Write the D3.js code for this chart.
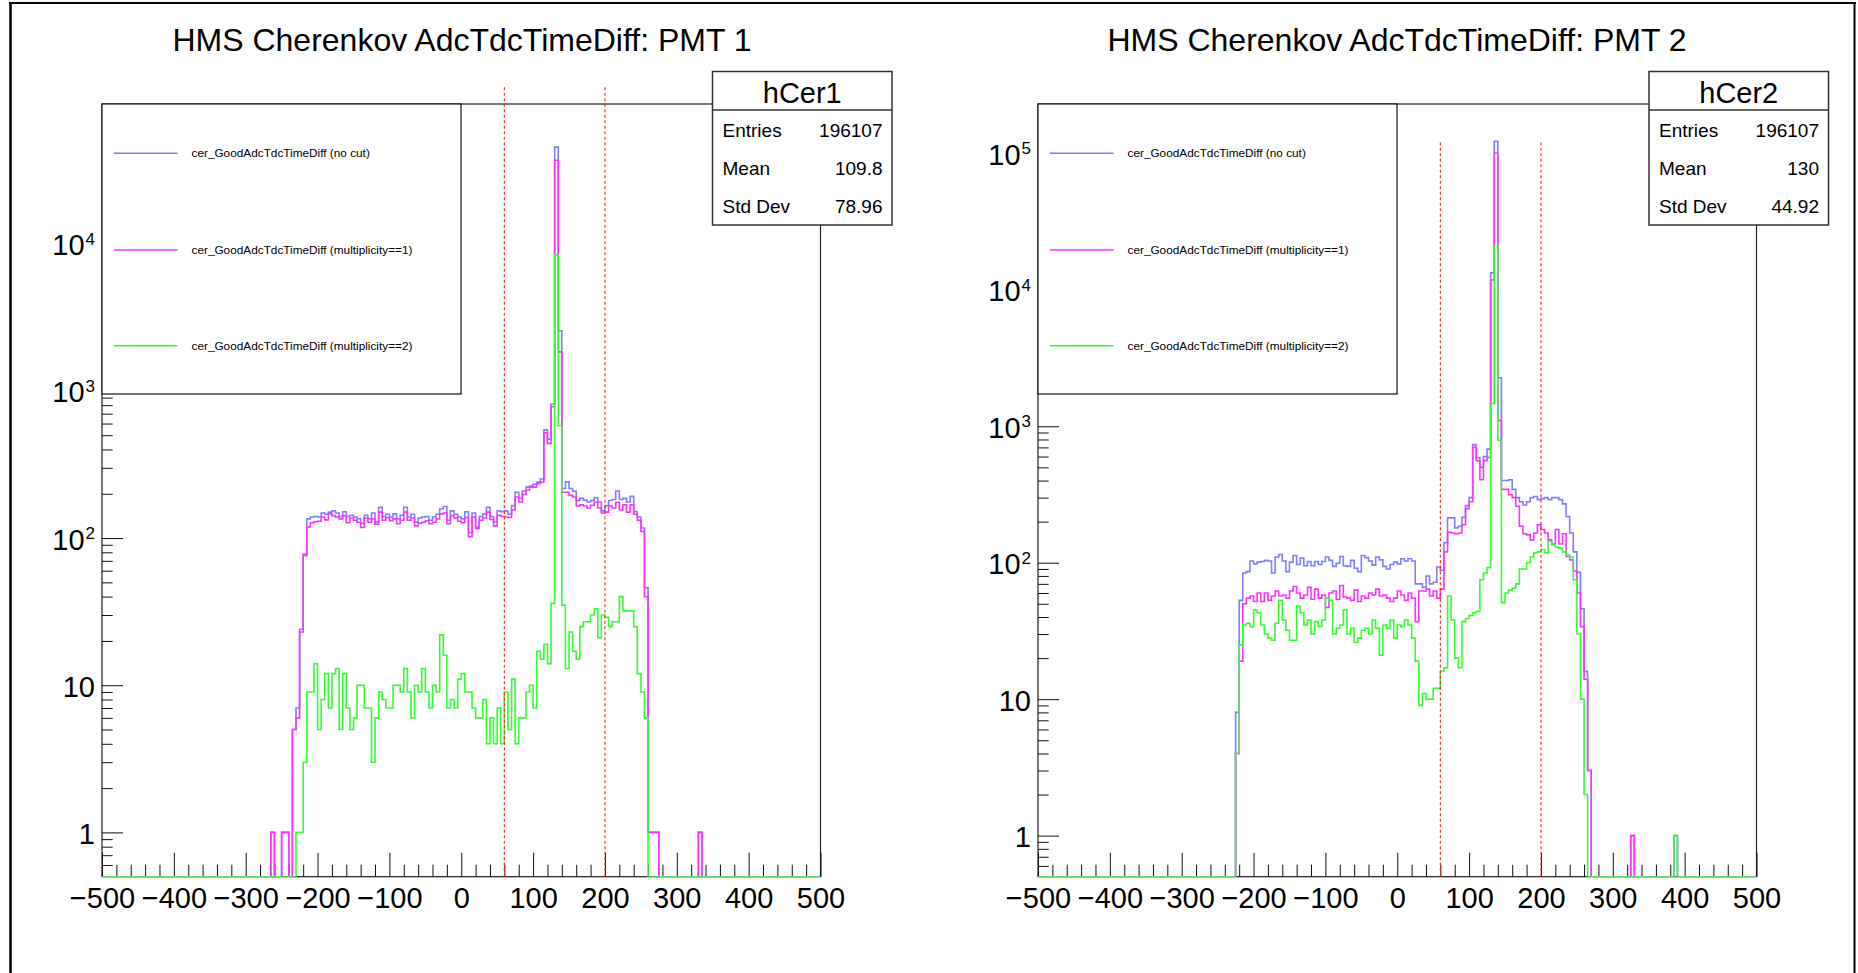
<!DOCTYPE html>
<html><head><meta charset="utf-8">
<script src="https://cdn.jsdelivr.net/npm/d3@7"></script>
<style>
body{margin:0;background:#fff;}
svg{display:block;font-family:"Liberation Sans",Arial,Helvetica,sans-serif;}
</style></head>
<body><svg id="c" width="1858" height="973"></svg>
<script>
// ---------- data ----------
const X_MIN = -500, X_MAX = 500, BIN_W = 5, Y_MIN = 0.5;
const xTickLabels = [-500,-400,-300,-200,-100,0,100,200,300,400,500];
const cutLines = [60, 200];
const cutLineTop = 1.2e5;
const legendLabels = ["cer_GoodAdcTdcTimeDiff (no cut)",
                      "cer_GoodAdcTdcTimeDiff (multiplicity==1)",
                      "cer_GoodAdcTdcTimeDiff (multiplicity==2)"];
const seriesColors = ["#7f7fff", "#ff33ff", "#33ff33"];
const titles = ["HMS Cherenkov AdcTdcTimeDiff: PMT 1", "HMS Cherenkov AdcTdcTimeDiff: PMT 2"];
const statNames = ["hCer1", "hCer2"];
const statLabels = ["Entries", "Mean", "Std Dev"];
const statValues1 = ["196107", "109.8", "78.96"];
const statValues2 = ["196107", "130", "44.92"];
const yMaxes = [89000, 230000];

// PMT 1 : bins of width 5 starting at -240
const pmt1Start = -240;
const pmt1NoCut = [
 0,5,7,24,78,135,139,140,139,
 148,145,150,153,148,140,151,140,143,139,
 135,126,143,135,148,128,162,140,145,139,
 146,135,143,162,139,145,128,137,139,140,
 132,139,145,158,164,132,153,145,139,135,
 151,109,148,119,140,146,162,140,128,153,
 151,153,145,166,205,186,209,222,226,232,
 240,252,543,470,815,45300,2560,217,241,217,
 208,180,186,181,176,180,188,176,153,166,
 180,183,209,183,186,176,192,151,139,117,
 46,1,1,1,0];
const pmt1Mult1 = [
 0,5,6,23,76,119,127,129,130,
 139,133,146,142,139,135,142,127,137,132,
 128,118,137,128,135,124,150,132,138,131,
 135,125,132,150,132,137,121,126,128,131,
 125,128,135,146,148,125,142,137,130,127,
 138,102,139,116,132,137,150,134,121,143,
 140,139,138,155,190,176,198,212,222,222,
 234,240,520,440,780,36900,1840,205,205,195,
 190,165,168,165,160,167,175,160,148,150,
 165,160,175,155,168,150,168,145,132,111,
 40,1,1,1,0];
const pmt1Mult2 = [
 0,0,1,1,3,9,9,14,5,
 8,12,7,12,13,5,12,7,5,6,
 10,10,7,7,3,6,9,8,7,7,
 10,10,9,13,9,6,10,9,13,9,
 7,10,9,22,16,7,8,7,11,12,
 9,9,7,6,6,8,4,6,4,7,
 4,9,5,11,4,6,6,9,10,7,
 17,15,19,14,36,8340,580,35,13,23,
 17,15,25,27,27,30,33,21,30,29,
 25,27,27,40,32,32,32,25,12,9,
 6,0,0,0,0];
const pmt1NoCutIsolated = [[-265,1],[-250,1],[-245,1],[330,1]];
const pmt1Mult1Isolated = [[-265,1],[-250,1],[-245,1],[330,1]];
const pmt1Mult2Isolated = [];

// PMT 2 : bins of width 5 starting at -230
const pmt2Start = -230;
const pmt2NoCut = [
 0,8,53,84,86,
 103,98,101,102,104,103,84,110,115,103,
 86,101,113,97,108,95,102,95,102,97,
 102,110,104,94,99,111,95,94,104,91,
 86,113,109,103,96,110,105,94,90,97,
 101,98,107,103,107,103,70,
 70,66,80,70,72,93,88,140,
 213,213,180,185,215,262,300,734,590,500,600,680,13300,122500,2270,
 400,400,406,345,300,280,265,280,300,306,
 290,295,300,290,300,300,290,270,218,165,
 120,85,46,16,3,0];
const pmt2Mult1 = [
 0,4,19,50,55,
 57,52,60,52,60,53,57,62,57,58,
 55,62,67,60,55,58,66,54,64,55,
 58,47,60,62,54,68,56,55,53,63,
 52,57,55,60,58,64,57,58,55,52,
 55,62,58,53,60,55,37,
 62,62,64,57,62,55,64,120,
 167,165,163,165,190,249,280,700,560,406,560,590,11800,100500,1100,
 345,345,315,300,259,185,163,160,147,165,
 190,175,165,147,137,175,137,163,111,105,
 87,60,34,14,3,0];
const pmt2Mult2 = [
 0,4,25,35,36,
 34,45,43,35,30,28,27,36,53,38,
 32,27,27,48,43,35,38,30,37,34,
 38,55,53,30,33,35,45,30,33,26,
 28,32,33,30,38,33,21,35,33,38,
 28,35,34,38,35,28,19,
 9,11,10,10,12,12,16,17,
 57,38,20,17,37,39,41,43,44,75,84,92,1470,20750,790,
 51,60,63,65,70,90,90,100,110,118,
 120,125,118,143,135,130,128,120,115,110,
 75,30,10,2,0,0];
const pmt2NoCutIsolated = [[325,1],[385,1]];
const pmt2Mult1Isolated = [[325,1]];
const pmt2Mult2Isolated = [[385,1]];

// ---------- helpers ----------
const N_BINS = (X_MAX - X_MIN) / BIN_W;
function fullBins(start, values, isolated) {
  const arr = new Array(N_BINS).fill(0);
  values.forEach((v, i) => { arr[(start - X_MIN) / BIN_W + i] = v; });
  isolated.forEach(([xv, v]) => { arr[(xv - X_MIN) / BIN_W] = v; });
  return arr;
}

const panels = [
  { title: titles[0], stat: statNames[0], statValues: statValues1, yMax: yMaxes[0],
    fx0: 102, fx1: 820.5, titleX: 462, statX0: 712.5, statX1: 892,
    series: [fullBins(pmt1Start, pmt1NoCut, pmt1NoCutIsolated),
             fullBins(pmt1Start, pmt1Mult1, pmt1Mult1Isolated),
             fullBins(pmt1Start, pmt1Mult2, pmt1Mult2Isolated)] },
  { title: titles[1], stat: statNames[1], statValues: statValues2, yMax: yMaxes[1],
    fx0: 1038, fx1: 1756.5, titleX: 1397, statX0: 1649, statX1: 1828.5,
    series: [fullBins(pmt2Start, pmt2NoCut, pmt2NoCutIsolated),
             fullBins(pmt2Start, pmt2Mult1, pmt2Mult1Isolated),
             fullBins(pmt2Start, pmt2Mult2, pmt2Mult2Isolated)] }
];

const FONT = '"Liberation Sans",Arial,Helvetica,sans-serif';
const svg = d3.select("#c");
svg.append("rect").attr("width", 1858).attr("height", 973).attr("fill", "#fff");

const FY0 = 104, FY1 = 876.7;

panels.forEach((p, pi) => {
  const g = svg.append("g");
  const x = d3.scaleLinear().domain([X_MIN, X_MAX]).range([p.fx0, p.fx1]);
  const y = d3.scaleLog().domain([Y_MIN, p.yMax]).range([FY1, FY0]);

  const clipId = "clip" + pi;
  svg.append("clipPath").attr("id", clipId).append("rect")
    .attr("x", p.fx0).attr("y", FY0 - 30).attr("width", p.fx1 - p.fx0).attr("height", FY1 - FY0 + 30);

  // frame
  g.append("rect").attr("x", p.fx0).attr("y", FY0).attr("width", p.fx1 - p.fx0).attr("height", FY1 - FY0)
    .attr("fill", "none").attr("stroke", "#222").attr("stroke-width", 1.2);

  // x axis ticks
  const minorX = d3.range(X_MIN, X_MAX + 1, 20).filter(v => v % 100 !== 0);
  g.append("g").attr("transform", `translate(0,${FY1})`)
    .call(d3.axisBottom(x).tickValues(minorX).tickSize(-12).tickFormat(""))
    .call(a => a.select(".domain").remove())
    .call(a => a.selectAll("line").attr("stroke", "#111").attr("stroke-width", 1));
  g.append("g").attr("transform", `translate(0,${FY1})`)
    .call(d3.axisBottom(x).tickValues(xTickLabels).tickSize(-24).tickPadding(11))
    .call(a => a.select(".domain").remove())
    .call(a => a.selectAll("line").attr("stroke", "#111").attr("stroke-width", 1))
    .call(a => a.selectAll("text").attr("font-size", 29).attr("fill", "#000").attr("font-family", FONT));

  // y axis ticks
  const maxDec = Math.floor(Math.log10(p.yMax));
  const decades = d3.range(0, maxDec + 1).map(k => Math.pow(10, k));
  const minorY = [0.6, 0.7, 0.8, 0.9];
  for (let k = 0; k <= maxDec; k++) for (let m = 2; m <= 9; m++) {
    const v = m * Math.pow(10, k); if (v < p.yMax) minorY.push(v);
  }
  g.append("g").attr("transform", `translate(${p.fx0},0)`)
    .call(d3.axisLeft(y).tickValues(minorY).tickSize(-10.7).tickFormat(""))
    .call(a => a.select(".domain").remove())
    .call(a => a.selectAll("line").attr("stroke", "#111").attr("stroke-width", 1));
  const yAx = g.append("g").attr("transform", `translate(${p.fx0},0)`)
    .call(d3.axisLeft(y).tickValues(decades).tickSize(-21).tickPadding(7).tickFormat(""))
    .call(a => a.select(".domain").remove())
    .call(a => a.selectAll("line").attr("stroke", "#111").attr("stroke-width", 1));
  yAx.selectAll(".tick text").each(function(d) {
    const t = d3.select(this).attr("font-size", 29).attr("fill", "#000").attr("dy", "0.38em")
      .attr("font-family", FONT);
    const k = Math.round(Math.log10(d));
    if (k === 0) t.text("1");
    else if (k === 1) t.text("10");
    else {
      t.text("10");
      t.append("tspan").attr("font-size", 17).attr("dy", "-0.62em").attr("dx", "1").text(k);
    }
  });

  // histograms
  const hg = g.append("g").attr("clip-path", `url(#${clipId})`);
  const line = d3.line()
    .x(d => x(d[0]))
    .y(d => y(Math.max(d[1], Y_MIN)))
    .curve(d3.curveStepAfter);
  p.series.forEach((arr, si) => {
    const pts = arr.map((v, i) => [X_MIN + i * BIN_W, v]);
    pts.push([X_MAX, arr[arr.length - 1]]);
    hg.append("path").datum(pts).attr("d", line)
      .attr("fill", "none").attr("stroke", seriesColors[si]).attr("stroke-width", 1.6)
      .attr("stroke-linejoin", "miter");
  });

  // cut lines
  cutLines.forEach(c => {
    g.append("line").attr("x1", x(c)).attr("x2", x(c))
      .attr("y1", y(Y_MIN)).attr("y2", y(cutLineTop))
      .attr("stroke", "#ff2020").attr("stroke-width", 1.1).attr("stroke-dasharray", "3,2.5");
  });

  // legend
  const lx0 = p.fx0, lx1 = p.fx0 + 359, ly0 = FY0, ly1 = 394;
  g.append("rect").attr("x", lx0).attr("y", ly0).attr("width", lx1 - lx0).attr("height", ly1 - ly0)
    .attr("fill", "#fff").attr("stroke", "#111").attr("stroke-width", 1.2);
  const entryY = [153.3, 250, 345.7];
  legendLabels.forEach((lab, i) => {
    g.append("line").attr("x1", lx0 + 12).attr("x2", lx0 + 75.5)
      .attr("y1", entryY[i]).attr("y2", entryY[i])
      .attr("stroke", seriesColors[i]).attr("stroke-width", 1.6);
    g.append("text").attr("x", lx0 + 89.5).attr("y", entryY[i] + 4)
      .attr("font-size", 11.8).attr("fill", "#000").text(lab);
  });

  // stats box
  const sx0 = p.statX0, sx1 = p.statX1, sy0 = 71.5, sy1 = 225, sDiv = 110;
  g.append("rect").attr("x", sx0).attr("y", sy0).attr("width", sx1 - sx0).attr("height", sy1 - sy0)
    .attr("fill", "#fff").attr("stroke", "#333").attr("stroke-width", 1.5);
  g.append("line").attr("x1", sx0).attr("x2", sx1).attr("y1", sDiv).attr("y2", sDiv)
    .attr("stroke", "#333").attr("stroke-width", 1.5);
  g.append("text").attr("x", (sx0 + sx1) / 2).attr("y", 102.5).attr("text-anchor", "middle")
    .attr("font-size", 29).attr("fill", "#000").text(p.stat);
  const rowY = [137, 175.3, 213.3];
  statLabels.forEach((lab, i) => {
    g.append("text").attr("x", sx0 + 10).attr("y", rowY[i]).attr("font-size", 19).attr("fill", "#000").text(lab);
    g.append("text").attr("x", sx1 - 9.5).attr("y", rowY[i]).attr("font-size", 19)
      .attr("text-anchor", "end").attr("fill", "#000").text(p.statValues[i]);
  });

  // title
  g.append("text").attr("x", p.titleX).attr("y", 50.7).attr("text-anchor", "middle")
    .attr("font-size", 32).attr("fill", "#000").text(p.title);
});

// outer canvas border
svg.append("line").attr("x1", 9).attr("x2", 1856).attr("y1", 3).attr("y2", 3).attr("stroke", "#000").attr("stroke-width", 2);
svg.append("line").attr("x1", 10.5).attr("x2", 10.5).attr("y1", 2).attr("y2", 973).attr("stroke", "#000").attr("stroke-width", 2.5);
svg.append("line").attr("x1", 1854.5).attr("x2", 1854.5).attr("y1", 2).attr("y2", 973).attr("stroke", "#000").attr("stroke-width", 2);
</script>
</body></html>
